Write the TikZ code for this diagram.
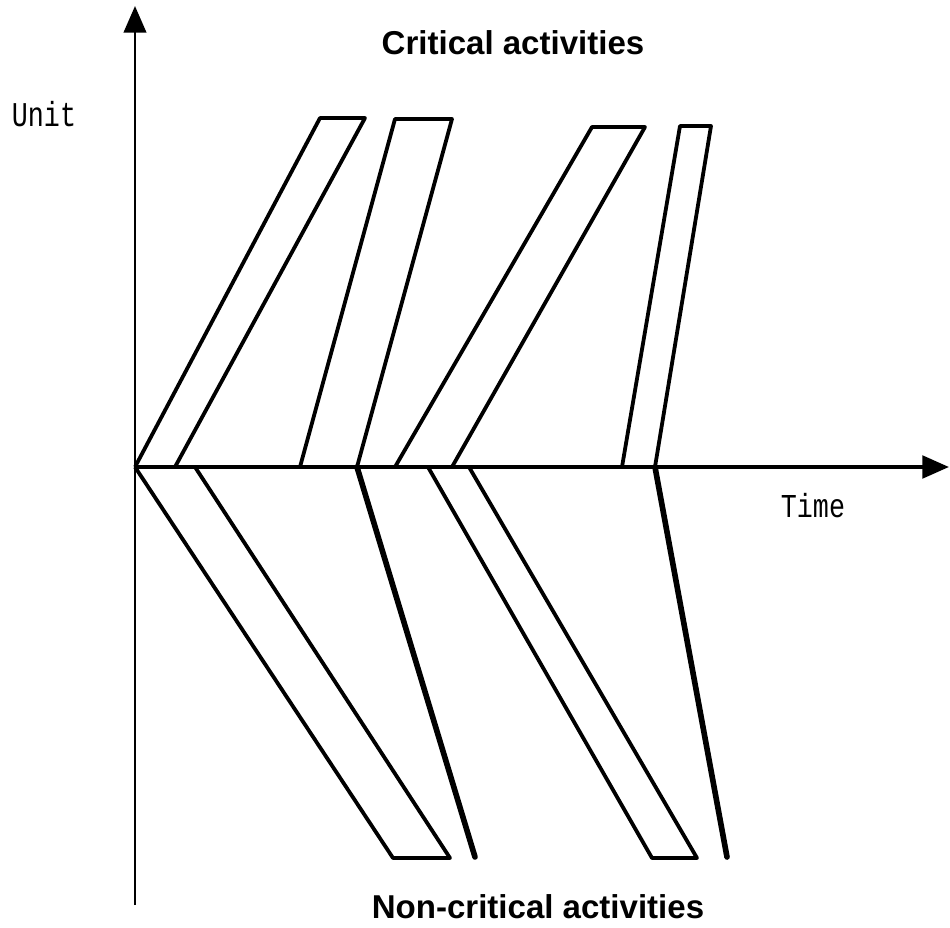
\documentclass[tikz,border=0pt]{standalone}
\usepackage{fontspec}
\setsansfont{Liberation Sans}
\setmonofont{Liberation Mono}
\usetikzlibrary{arrows.meta}

\begin{document}
\begin{tikzpicture}[
    x=0.025cm, y=-0.025cm,
    axis/.style={line width=2pt, -{Triangle[length=19pt,width=16pt]}},
    bar/.style={line width=2.7pt, line join=round},
    heavy/.style={line width=4pt, line cap=round},
    title/.style={font=\sffamily\bfseries\fontsize{23.5}{27}\selectfont},
    tag/.style={font=\ttfamily\fontsize{19}{22}\selectfont}
]
\useasboundingbox (0,0) rectangle (950,928);
% axes
\coordinate (O) at (135,467);
\coordinate (ybot) at (135,905);
\coordinate (ytop) at (135,6);
\coordinate (xend) at (949,467);
\draw[axis] (ybot) -- (ytop);
\draw[axis, line width=2.8pt] (O) -- (xend);
% critical activities (above the time axis)
\foreach \a/\b/\c/\d/\h in {135/175/320/365/118, 300/357/395/452/119, 395/452/592/645/127, 622/655/680/711/126}
  \draw[bar] (\a,467) -- (\c,\h) -- (\d,\h) -- (\b,467);
% non-critical activities (below the time axis)
\foreach \a/\b/\c/\d in {135/195/393/450, 428/469/652/697}
  \draw[bar] (\a,467) -- (\c,858) -- (\d,858) -- (\b,467);
\foreach \a/\c in {357/475, 655/727}
  \draw[heavy] (\a,467) -- (\c,857);
% labels
\node (crit) [title] at (513,43) {Critical activities};
\node (noncrit) [title] at (538,907) {Non-critical activities};
\node (unit) [tag] at (44,114) {\scalebox{1}[1.3]{Unit}};
\node (time) [tag] at (813,506) {\scalebox{1}[1.25]{Time}};
\end{tikzpicture}
\end{document}
